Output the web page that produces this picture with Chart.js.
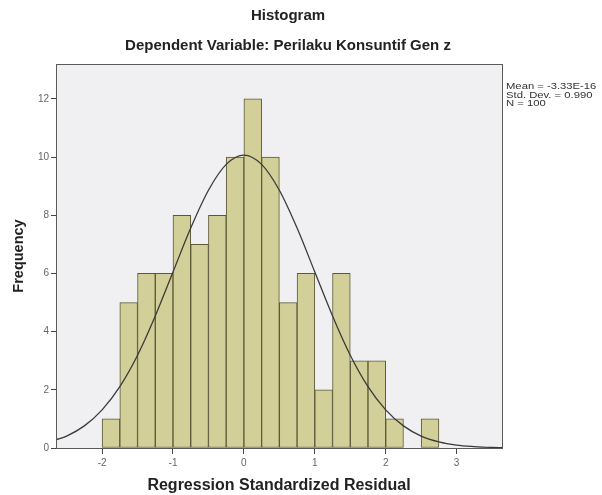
<!DOCTYPE html>
<html>
<head>
<meta charset="utf-8">
<script src="https://cdn.jsdelivr.net/npm/chart.js@4/dist/chart.umd.min.js"></script>
<style>
  html, body { margin: 0; padding: 0; background: #ffffff; }
  #wrap { width: 602px; height: 495px; position: relative; }
</style>
</head>
<body>
<div id="wrap"><canvas id="c" width="602" height="495"></canvas></div>
<script>
// ---- data ----
const titleText = "Histogram";
const subtitleText = "Dependent Variable: Perilaku Konsuntif Gen z";
const xAxisTitle = "Regression Standardized Residual";
const yAxisTitle = "Frequency";
const statsLines = ["Mean = -3.33E-16", "Std. Dev. = 0.990", "N = 100"];

const binCenters = [-1.875, -1.625, -1.375, -1.125, -0.875, -0.625, -0.375, -0.125,
                    0.125, 0.375, 0.625, 0.875, 1.125, 1.375, 1.625, 1.875, 2.125, 2.375, 2.625];
const frequencies = [1, 5, 6, 6, 8, 7, 8, 10, 12, 10, 5, 6, 2, 6, 3, 3, 1, 0, 1];

const curveX = [-2.65, -2.5, -2.25, -2.0, -1.75, -1.5, -1.25, -1.0, -0.75, -0.5, -0.25, 0,
                0.25, 0.5, 0.75, 1.0, 1.25, 1.5, 1.75, 2.0, 2.25, 2.5, 2.75, 3.0, 3.25, 3.5, 3.64];
const curveY = [0.28, 0.41, 0.76, 1.31, 2.11, 3.19, 4.54, 6.05, 7.56, 8.86, 9.75, 10.07,
                9.75, 8.86, 7.56, 6.05, 4.54, 3.19, 2.11, 1.31, 0.76, 0.41, 0.21, 0.10, 0.05, 0.02, 0.01];

const xTicks = [-2, -1, 0, 1, 2, 3];
const yTicks = [0, 2, 4, 6, 8, 10, 12];
const xMin = -2.65, xMax = 3.64;
const yMin = 0, yMax = 13.2;

// ---- styling ----
const FONT = "'Liberation Sans', Arial, sans-serif";
const plotBg = "#f0f0f2";
const barFill = "#d3cf98";
const barEdge = "#5b5838";
const frameColor = "#5a5a5a";

const framePlugin = {
  id: 'frame',
  beforeDatasetsDraw(chart) {
    const { ctx, chartArea: a } = chart;
    ctx.save();
    ctx.fillStyle = plotBg;
    ctx.fillRect(a.left, a.top, a.right - a.left, a.bottom - a.top);
    ctx.restore();
  },
  afterDraw(chart) {
    const { ctx, chartArea: a } = chart;
    ctx.save();
    ctx.strokeStyle = frameColor;
    ctx.lineWidth = 1;
    ctx.strokeRect(Math.round(a.left) + 0.5, Math.round(a.top) + 0.5,
                   Math.round(a.right - a.left), Math.round(a.bottom - a.top));
    // titles
    const cx = (a.left + a.right) / 2 + 9;
    ctx.fillStyle = "#222";
    ctx.textAlign = "center";
    ctx.textBaseline = "middle";
    ctx.font = "bold 15px " + FONT;
    ctx.fillText(titleText, cx, a.top - 48);
    ctx.fillText(subtitleText, cx, a.top - 18);
    // statistics
    ctx.textAlign = "left";
    ctx.font = "9px " + FONT;
    ctx.fillStyle = "#333";
    statsLines.forEach((t, i) => {
      ctx.save();
      ctx.translate(a.right + 4, a.top + 23 + i * 8.5);
      ctx.scale(1.25, 1);
      ctx.fillText(t, 0, 0);
      ctx.restore();
    });
    ctx.restore();
  }
};

new Chart(document.getElementById('c'), {
  type: 'bar',
  data: {
    datasets: [
      {
        type: 'line',
        label: 'Normal',
        data: curveX.map((x, i) => ({ x: x, y: curveY[i] })),
        borderColor: '#3a3a3a',
        borderWidth: 1.3,
        pointRadius: 0,
        cubicInterpolationMode: 'monotone',
        fill: false,
        order: 0
      },
      {
        type: 'bar',
        label: 'Frequency',
        data: binCenters.map((x, i) => ({ x: x, y: frequencies[i] })),
        backgroundColor: barFill,
        borderColor: barEdge,
        borderWidth: 1,
        borderSkipped: false,
        barPercentage: 1,
        categoryPercentage: 1,
        order: 1
      }
    ]
  },
  options: {
    responsive: false,
    animation: false,
    layout: { padding: { left: 10, right: 100, top: 64, bottom: 0 } },
    plugins: { legend: { display: false }, tooltip: { enabled: false }, title: { display: false } },
    scales: {
      x: {
        type: 'linear',
        offset: false,
        min: xMin, max: xMax,
        afterBuildTicks: s => { s.ticks = xTicks.map(v => ({ value: v })); },
        afterFit: s => { s.height = 47; },
        grid: { display: true, offset: false, drawOnChartArea: false, drawTicks: true, tickLength: 6, color: '#444', lineWidth: 1 },
        border: { display: true, color: frameColor },
        ticks: { color: '#666', font: { family: FONT, size: 10 }, padding: 3, maxRotation: 0, autoSkip: false },
        title: { display: true, text: xAxisTitle, color: '#222', font: { family: FONT, size: 16, weight: 'bold' }, padding: { top: 4, bottom: 0 } }
      },
      y: {
        min: yMin, max: yMax,
        afterBuildTicks: s => { s.ticks = yTicks.map(v => ({ value: v })); },
        afterFit: s => { s.width = 46; },
        grid: { display: true, drawOnChartArea: false, drawTicks: true, tickLength: 5, color: '#444', lineWidth: 1 },
        border: { display: true, color: frameColor },
        ticks: { color: '#666', font: { family: FONT, size: 10 }, padding: 2 },
        title: { display: true, text: yAxisTitle, color: '#222', font: { family: FONT, size: 14.5, weight: 'bold' }, padding: { top: 0, bottom: 4 } }
      }
    }
  },
  plugins: [framePlugin]
});
</script>
</body>
</html>
